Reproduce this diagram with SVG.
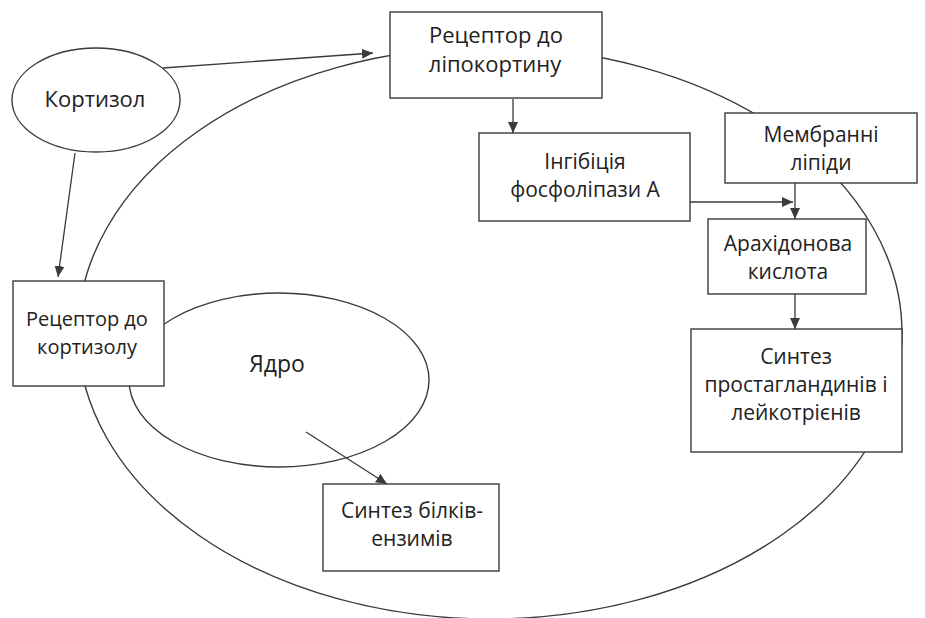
<svg xmlns="http://www.w3.org/2000/svg" width="925" height="618" viewBox="0 0 925 618">
<style>
.sh{fill:none;stroke:#3a3a3a;stroke-width:1.4}
.bx{fill:#fff;stroke:#3a3a3a;stroke-width:1.4}
.t{font-family:"Open Sans","Noto Sans",sans-serif;font-size:21px;fill:#222;text-anchor:middle}
.tl{font-size:22px}
.cn{fill:none;stroke:#3a3a3a;stroke-width:1.3}
</style>
<defs>
<marker id="ah" markerUnits="userSpaceOnUse" markerWidth="12" markerHeight="10" refX="11" refY="5" orient="auto">
<path d="M0,0 L11,5 L0,10 Z" fill="#3a3a3a"/>
</marker>
</defs>
<rect width="925" height="618" fill="#fff"/>
<g id="cell"><ellipse class="sh" cx="490" cy="333" rx="412" ry="286"/></g>
<g id="nucleus"><ellipse class="sh" cx="279" cy="380" rx="150" ry="87"/><text class="t" x="277" y="372" style="font-size:23px">Ядро</text></g>
<g id="connectors">
<path class="cn" d="M163,68 L373,53" marker-end="url(#ah)"/>
<path class="cn" d="M75,153 L58,277" marker-end="url(#ah)"/>
<path class="cn" d="M513,99 L513,133" marker-end="url(#ah)"/>
<path class="cn" d="M690,202 L793,202" marker-end="url(#ah)"/>
<path class="cn" d="M795,183 L795,219" marker-end="url(#ah)"/>
<path class="cn" d="M795,294 L795,329" marker-end="url(#ah)"/>
<path class="cn" d="M306,432 L387,484" marker-end="url(#ah)"/>
</g>
<g id="cortisol"><ellipse class="bx" cx="96" cy="100" rx="84" ry="52"/><text class="t tl" x="95" y="107">Кортизол</text></g>
<g id="lipocortin-receptor"><rect class="bx" x="390" y="12" width="212" height="86"/><text class="t" x="496" y="43" style="font-size:22px">Рецептор до</text><text class="t" x="495" y="72" style="font-size:22px">ліпокортину</text></g>
<g id="cortisol-receptor"><rect class="bx" x="13" y="281" width="151" height="105"/><text class="t" x="87" y="326" style="font-size:20px">Рецептор до</text><text class="t" x="87" y="354" style="font-size:20px">кортизолу</text></g>
<g id="inhibition"><rect class="bx" x="479" y="133" width="211" height="88"/><text class="t" x="585" y="169">Інгібіція</text><text class="t" x="585" y="197">фосфоліпази А</text></g>
<g id="membrane-lipids"><rect class="bx" x="725" y="113" width="192" height="70"/><text class="t" x="821" y="142">Мембранні</text><text class="t" x="821" y="170">ліпіди</text></g>
<g id="arachidonic"><rect class="bx" x="708" y="219" width="158" height="75"/><text class="t" x="788" y="251">Арахідонова</text><text class="t" x="788" y="279">кислота</text></g>
<g id="prostaglandins"><rect class="bx" x="691" y="329" width="211" height="123"/><text class="t" x="796" y="364">Синтез</text><text class="t" x="796" y="392">простагландинів і</text><text class="t" x="796" y="420">лейкотрієнів</text></g>
<g id="protein-synthesis"><rect class="bx" x="323" y="484" width="176" height="87"/><text class="t" x="412" y="518">Синтез білків-</text><text class="t" x="412" y="546">ензимів</text></g>
</svg>
